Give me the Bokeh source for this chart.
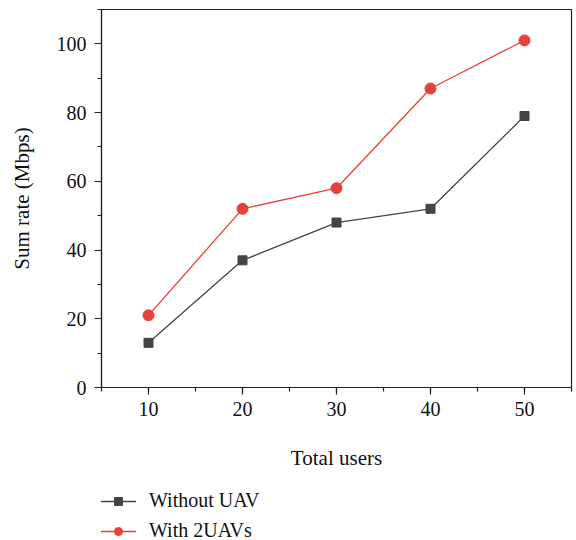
from bokeh.plotting import figure
from bokeh.layouts import column
from bokeh.models import Legend, LegendItem, SingleIntervalTicker, Range1d
from bokeh.embed import file_html
from bokeh.resources import INLINE

users = [10, 20, 30, 40, 50]
without_uav = [13, 37, 48, 52, 79]
with_2uavs = [21, 52, 58, 87, 101]
series_labels = ["Without UAV", "With 2UAVs"]

FONT = "Liberation Serif"
GRAY = "#444444"
RED = "#E8403B"

p = figure(width=574, height=480, output_backend="svg",
           toolbar_location=None, x_range=Range1d(5, 55), y_range=Range1d(0, 110),
           min_border_left=101, min_border_right=3, min_border_top=9,
           min_border_bottom=93)
p.grid.visible = False
p.outline_line_color = "#222222"
p.outline_line_width = 1.2
p.background_fill_color = "white"
p.border_fill_color = "white"

p.line(users, without_uav, line_color=GRAY, line_width=1.3)
p.scatter(users, without_uav, marker="square", size=9, fill_color=GRAY, line_color=GRAY)
p.line(users, with_2uavs, line_color=RED, line_width=1.3)
p.scatter(users, with_2uavs, marker="circle", size=11, fill_color=RED, line_color=RED)

p.xaxis.ticker = SingleIntervalTicker(interval=10, num_minor_ticks=2)
p.yaxis.ticker = SingleIntervalTicker(interval=20, num_minor_ticks=2)

for ax in (p.xaxis, p.yaxis):
    ax.axis_line_color = "#222222"
    ax.axis_line_width = 1.2
    ax.major_tick_line_color = "#222222"
    ax.minor_tick_line_color = "#222222"
    ax.major_tick_line_width = 1.2
    ax.minor_tick_line_width = 1.2
    ax.major_tick_in = 0
    ax.major_tick_out = 7
    ax.minor_tick_in = 0
    ax.minor_tick_out = 4
    ax.major_label_text_font = FONT
    ax.major_label_text_font_size = "20px"
    ax.major_label_text_color = "#111111"
    ax.axis_label_text_font = FONT
    ax.axis_label_text_font_size = "21px"
    ax.axis_label_text_font_style = "normal"
    ax.axis_label_text_color = "#111111"

p.xaxis.axis_label = "Total users"
p.yaxis.axis_label = "Sum rate (Mbps)"
p.xaxis.major_label_standoff = 7
p.yaxis.major_label_standoff = 8
p.xaxis.axis_label_standoff = 27
p.yaxis.axis_label_standoff = 20

# legend strip below the plot
p2 = figure(width=574, height=60, output_backend="svg", toolbar_location=None,
            x_axis_location=None, y_axis_location=None,
            min_border_left=0, min_border_right=0, min_border_top=0, min_border_bottom=0)
p2.grid.visible = False
p2.outline_line_color = None
p2.border_fill_color = "white"
ll1 = p2.line(users, without_uav, line_color=GRAY, line_width=1.3, visible=False)
lm1 = p2.scatter(users, without_uav, marker="square", size=6, fill_color=GRAY, line_color=GRAY, visible=False)
ll2 = p2.line(users, with_2uavs, line_color=RED, line_width=1.3, visible=False)
lm2 = p2.scatter(users, with_2uavs, marker="circle", size=7, fill_color=RED, line_color=RED, visible=False)

legend = Legend(items=[LegendItem(label=series_labels[0], renderers=[ll1, lm1]),
                       LegendItem(label=series_labels[1], renderers=[ll2, lm2])],
                location=(-1, -2), orientation="vertical")
legend.label_text_font = FONT
legend.label_text_font_size = "20px"
legend.label_text_color = "#111111"
legend.border_line_color = None
legend.background_fill_alpha = 0
legend.glyph_width = 36
legend.glyph_height = 20
legend.label_height = 20
legend.label_standoff = 13
legend.spacing = 7
legend.padding = 0
legend.margin = 0
p2.add_layout(legend, "center")

open("out.html", "w").write(file_html(column(p, p2, spacing=0), INLINE))
